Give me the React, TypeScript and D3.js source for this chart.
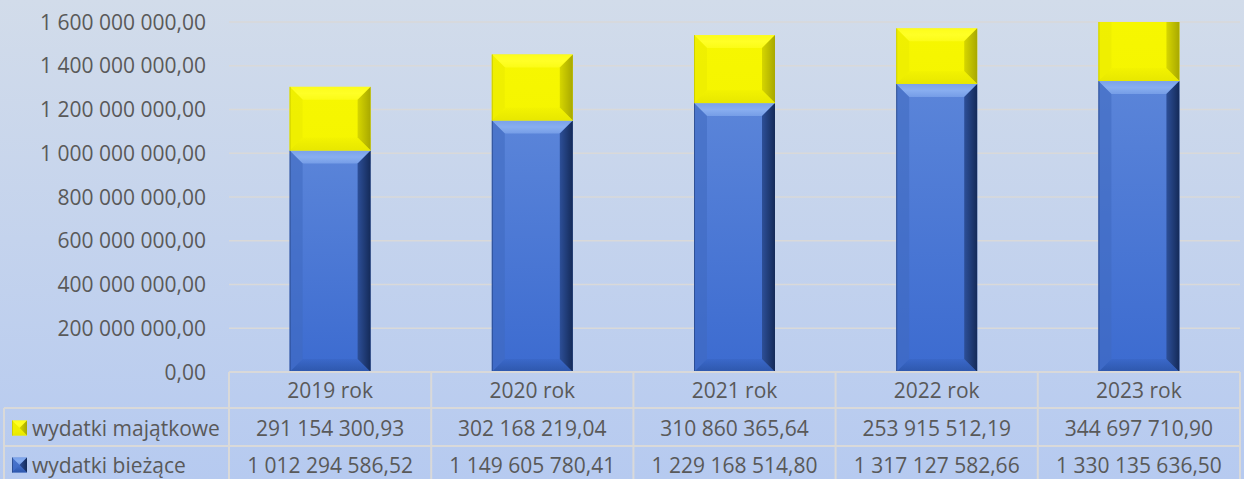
import React from "react";
import * as d3 from "d3";

const categories = ["2019 rok", "2020 rok", "2021 rok", "2022 rok", "2023 rok"];
const seriesNames = ["wydatki majątkowe", "wydatki bieżące"];
const majatkowe = [291154300.93, 302168219.04, 310860365.64, 253915512.19, 344697710.9];
const biezace = [1012294586.52, 1149605780.41, 1229168514.8, 1317127582.66, 1330135636.5];
const yTicks = [0, 200e6, 400e6, 600e6, 800e6, 1000e6, 1200e6, 1400e6, 1600e6];

const W = 1244;
const H = 479;
const plotLeft = 229;
const plotRight = 1240;
const plotTop = 22;
const plotBottom = 372;
const rowLines = [372, 408, 446];
const tableLeft = 4;
const FONT = "'Open Sans', sans-serif";
const FS = 21;
const TEXT = "#595959";
const GRID = "#d9d9d9";

const locale = d3.formatLocale({ decimal: ",", thousands: " ", grouping: [3], currency: ["", ""] });
const fmt = locale.format(",.2f");

type Pal = { face: string; faceB: string; top: string; left: string; leftOp: number; right: string; rightEdge: string; bottom: string; bottomOp: number };
const yellowPal: Pal = { face: "#f7f700", faceB: "#f5f500", top: "#ffff26", left: "#eeee00", leftOp: 0.8, right: "#d6d600", rightEdge: "#a8a800", bottom: "#e4e400", bottomOp: 0.8 };
const bluePal: Pal = { face: "#5b85d9", faceB: "#3c6bd0", top: "#88aef0", left: "#3f69c0", leftOp: 0.55, right: "#2d4f98", rightEdge: "#142a58", bottom: "#244a94", bottomOp: 0.6 };

function Bevel({ x, y, w, h, pal, id }: { x: number; y: number; w: number; h: number; pal: Pal; id: string }) {
  const b = Math.min(13, h / 2, w / 2);
  const x0 = x, x1 = x + w, y0 = y, y1 = y + h;
  const pts = (a: number[][]) => a.map((p) => p.join(",")).join(" ");
  return (
    <g>
      <defs>
        <linearGradient id={`f${id}`} x1="0" y1="0" x2="0" y2="1">
          <stop offset="0" stopColor={pal.face} />
          <stop offset="1" stopColor={pal.faceB} />
        </linearGradient>
        <linearGradient id={`r${id}`} x1="0" y1="0" x2="1" y2="0">
          <stop offset="0" stopColor={pal.right} />
          <stop offset="1" stopColor={pal.rightEdge} />
        </linearGradient>
        <linearGradient id={`d${id}`} x1="0" y1="0" x2="0" y2="1">
          <stop offset="0" stopColor={pal.bottom} stopOpacity={0.2} />
          <stop offset="1" stopColor={pal.bottom} stopOpacity={1} />
        </linearGradient>
        <linearGradient id={`t${id}`} x1="0" y1="0" x2="0" y2="1">
          <stop offset="0" stopColor={pal.top} stopOpacity={0.7} />
          <stop offset="0.5" stopColor={pal.top} stopOpacity={1} />
          <stop offset="1" stopColor={pal.top} stopOpacity={0.6} />
        </linearGradient>
      </defs>
      <rect x={x0} y={y0} width={w} height={h} fill={`url(#f${id})`} />
      <polygon points={pts([[x0, y0], [x1, y0], [x1 - b, y0 + b], [x0 + b, y0 + b]])} fill={`url(#t${id})`} />
      <polygon points={pts([[x0, y0], [x0 + b, y0 + b], [x0 + b, y1 - b], [x0, y1]])} fill={pal.left} opacity={pal.leftOp} />
      <polygon points={pts([[x1, y0], [x1, y1], [x1 - b, y1 - b], [x1 - b, y0 + b]])} fill={`url(#r${id})`} />
      <polygon points={pts([[x0, y1], [x1, y1], [x1 - b, y1 - b], [x0 + b, y1 - b]])} fill={`url(#d${id})`} opacity={pal.bottomOp} />
      <line x1={x0 + 0.5} x2={x0 + 0.5} y1={y0} y2={y1} stroke={pal.rightEdge} strokeOpacity={0.45} />
    </g>
  );
}

export default function App() {
  const x = d3.scaleBand<string>().domain(categories).range([plotLeft, plotRight]).paddingInner(0).paddingOuter(0);
  const y = d3.scaleLinear().domain([0, 1600e6]).range([plotBottom, plotTop]);
  const bw = 81;
  const colX = categories.map((c) => x(c) as number);
  const rows = [
    { name: seriesNames[0], vals: majatkowe, pal: yellowPal, cy: 428 },
    { name: seriesNames[1], vals: biezace, pal: bluePal, cy: 465 },
  ];
  return (
    <svg width={W} height={H} style={{ position: "absolute", left: 0, top: 0, display: "block" }} fontFamily={FONT}>
      <defs>
        <linearGradient id="bg" x1="0" y1="0" x2="0" y2="1">
          <stop offset="0" stopColor="#d2dcea" />
          <stop offset="1" stopColor="#b6caf0" />
        </linearGradient>
        <clipPath id="plotClip">
          <rect x={plotLeft} y={plotTop} width={plotRight - plotLeft} height={plotBottom - plotTop} />
        </clipPath>
      </defs>
      <rect x={0} y={0} width={W} height={H} fill="url(#bg)" />
      {yTicks.map((t) => (
        <g key={t}>
          {t > 0 && <line x1={plotLeft} x2={plotRight} y1={y(t)} y2={y(t)} stroke={GRID} strokeWidth={1.5} />}
          <text x={206} y={y(t)} dy="0.36em" textAnchor="end" fontSize={FS} fill={TEXT}>
            {fmt(t)}
          </text>
        </g>
      ))}
      <g clipPath="url(#plotClip)">
        {categories.map((c, i) => {
          const cx = (x(c) as number) + x.bandwidth() / 2;
          const bx = cx - bw / 2;
          const y0 = y(0), y1 = y(biezace[i]), y2 = y(biezace[i] + majatkowe[i]);
          return (
            <g key={c}>
              <Bevel x={bx} y={y1} w={bw} h={y0 - y1} pal={bluePal} id={`b${i}`} />
              <Bevel x={bx} y={y2} w={bw} h={y1 - y2} pal={yellowPal} id={`y${i}`} />
            </g>
          );
        })}
      </g>
      <line x1={plotLeft} x2={plotRight} y1={rowLines[0]} y2={rowLines[0]} stroke={GRID} strokeWidth={2} />
      <line x1={tableLeft} x2={plotRight} y1={rowLines[1]} y2={rowLines[1]} stroke={GRID} strokeWidth={2} />
      <line x1={tableLeft} x2={plotRight} y1={rowLines[2]} y2={rowLines[2]} stroke={GRID} strokeWidth={2} />
      <line x1={tableLeft} x2={tableLeft} y1={rowLines[1]} y2={H} stroke={GRID} strokeWidth={2} />
      {colX.map((cx, i) => (
        <line key={i} x1={cx} x2={cx} y1={rowLines[0]} y2={H} stroke={GRID} strokeWidth={2} />
      ))}
      <line x1={plotRight} x2={plotRight} y1={rowLines[0]} y2={H} stroke={GRID} strokeWidth={2} />
      {categories.map((c) => (
        <text key={c} x={(x(c) as number) + x.bandwidth() / 2} y={390} dy="0.36em" textAnchor="middle" fontSize={FS} fill={TEXT}>
          {c}
        </text>
      ))}
      {rows.map((r, ri) => (
        <g key={r.name}>
          <Bevel x={12} y={r.cy - 7.5} w={15} h={15} pal={r.pal} id={`leg${ri}`} />
          <text x={32} y={r.cy} dy="0.36em" fontSize={FS} fill={TEXT}>
            {r.name}
          </text>
          {r.vals.map((v, i) => (
            <text key={i} x={(x(categories[i]) as number) + x.bandwidth() / 2} y={r.cy} dy="0.36em" textAnchor="middle" fontSize={FS} fill={TEXT}>
              {fmt(v)}
            </text>
          ))}
        </g>
      ))}
    </svg>
  );
}
